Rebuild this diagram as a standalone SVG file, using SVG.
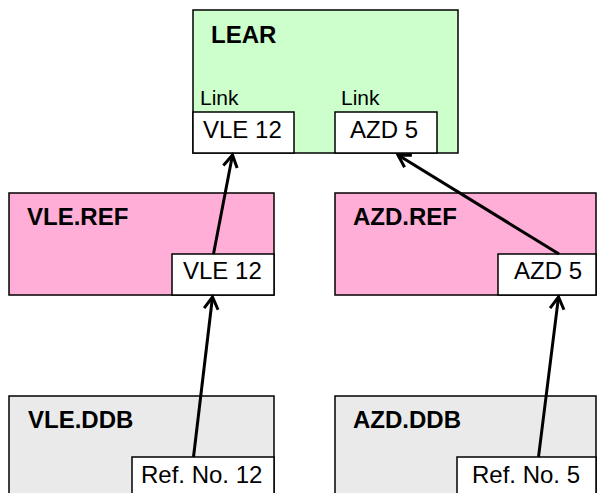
<svg xmlns="http://www.w3.org/2000/svg" width="597" height="493" viewBox="0 0 597 493">
<defs>
<style>
.box{stroke:#000;stroke-width:1.5}
.lear{fill:#CCFFCC}
.ref{fill:#FFAED7}
.ddb{fill:#EAEAEA}
.in{fill:#fff;stroke:#000;stroke-width:1.5}
.t{font-family:"Liberation Sans",Arial,sans-serif;font-size:24px;fill:#000}
.b{font-weight:bold}
.lk{font-size:21px}
.c{stroke:#000;stroke-width:3;fill:none;marker-end:url(#arr)}
</style>
<marker id="arr" markerUnits="userSpaceOnUse" markerWidth="30" markerHeight="30" viewBox="-15 -15 30 30" refX="0" refY="0" orient="auto">
<path d="M -12 -7 L 0 0 L -12 7" fill="none" stroke="#000" stroke-width="3"/>
</marker>
</defs>
<g id="lear">
<rect class="box lear" x="193" y="10" width="265" height="143"/>
<text class="t b" x="211" y="43">LEAR</text>
<text class="t lk" x="200" y="105">Link</text>
<text class="t lk" x="341" y="105">Link</text>
<rect class="in" x="193" y="112" width="101" height="41"/>
<text class="t" x="203" y="138">VLE 12</text>
<rect class="in" x="335" y="112" width="102" height="41"/>
<text class="t" x="350" y="138">AZD 5</text>
</g>
<g id="vle-ref">
<rect class="box ref" x="9" y="193" width="265" height="102"/>
<text class="t b" x="27" y="225">VLE.REF</text>
<rect class="in" x="172" y="254" width="102" height="41"/>
<text class="t" x="183" y="279">VLE 12</text>
</g>
<g id="azd-ref">
<rect class="box ref" x="335" y="193" width="261" height="102"/>
<text class="t b" x="353" y="225">AZD.REF</text>
<rect class="in" x="498" y="254" width="98" height="41"/>
<text class="t" x="514" y="279">AZD 5</text>
</g>
<g id="vle-ddb">
<rect class="box ddb" x="9" y="396" width="265" height="110"/>
<text class="t b" x="28" y="428">VLE.DDB</text>
<rect class="in" x="132" y="457" width="142" height="50"/>
<text class="t" x="141" y="483">Ref. No. 12</text>
</g>
<g id="azd-ddb">
<rect class="box ddb" x="335" y="396" width="261" height="110"/>
<text class="t b" x="353" y="428">AZD.DDB</text>
<rect class="in" x="457" y="457" width="139" height="50"/>
<text class="t" x="472" y="483">Ref. No. 5</text>
</g>
<g id="connectors">
<line class="c" x1="193.5" y1="457" x2="212.5" y2="297"/>
<line class="c" x1="213.5" y1="254" x2="232.5" y2="155"/>
<line class="c" x1="559" y1="254" x2="398" y2="155"/>
<line class="c" x1="538.5" y1="457" x2="558.5" y2="297"/>
</g>
</svg>
